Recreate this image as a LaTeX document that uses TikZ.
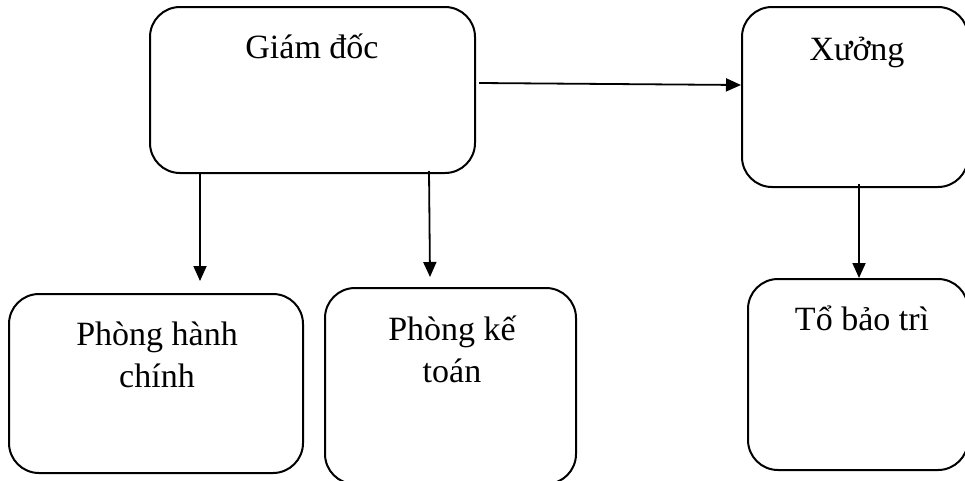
\documentclass[tikz,border=0pt]{standalone}
\usepackage{fontspec}
\setmainfont{Liberation Serif}
\usetikzlibrary{arrows.meta}
\begin{document}
\begin{tikzpicture}[x=1pt,y=-1pt,
  box/.style={draw=black,line width=2pt,rounded corners=30pt,rectangle,inner sep=0pt},
  lbl/.style={anchor=base,inner sep=0pt,font=\fontsize{34}{42}\selectfont,align=center},
  arr/.style={line width=1.8pt,-{Triangle[length=15pt,width=13pt]}}]
\useasboundingbox (0,0) rectangle (965,480);
\clip (0,0) rectangle (965,480);
\fill[white] (0,0) rectangle (965,480);
% boxes
\node[box,minimum width=325pt,minimum height=166pt] (gd) at (312.5,90) {};
\node[box,minimum width=226pt,minimum height=180pt] (xg) at (855,97) {};
\node[box,minimum width=294pt,minimum height=179pt] (phc) at (156,383.5) {};
\node[box,minimum width=251pt,minimum height=196pt] (pkt) at (450.5,386) {};
\node[box,minimum width=220pt,minimum height=191pt] (tbt) at (858,374.5) {};
% labels
\node[lbl] (gdt) at (312,58) {Giám đốc};
\node[lbl] (xgt) at (857,60) {Xưởng};
\node[lbl] (phct1) at (157,345) {Phòng hành};
\node[lbl] (phct2) at (157,387) {chính};
\node[lbl] (pktt1) at (452,340) {Phòng kế};
\node[lbl] (pktt2) at (452,382) {toán};
\node[lbl] (tbtt) at (862,330) {Tổ bảo trì};
% connectors
\draw[arr] ([shift={(3,-7)}]gd.east) -- ([shift={(0,-12)}]xg.west);
\draw[arr] ([xshift=-112.5pt]gd.south) -- ([shift={(44,-12)}]phc.north);
\draw[arr] ([shift={(116.5,-3)}]gd.south) -- ([shift={(-20.5,-10)}]pkt.north);
\draw[arr] ([shift={(4,-4)}]xg.south) -- ([shift={(1,0)}]tbt.north);
\end{tikzpicture}
\end{document}
